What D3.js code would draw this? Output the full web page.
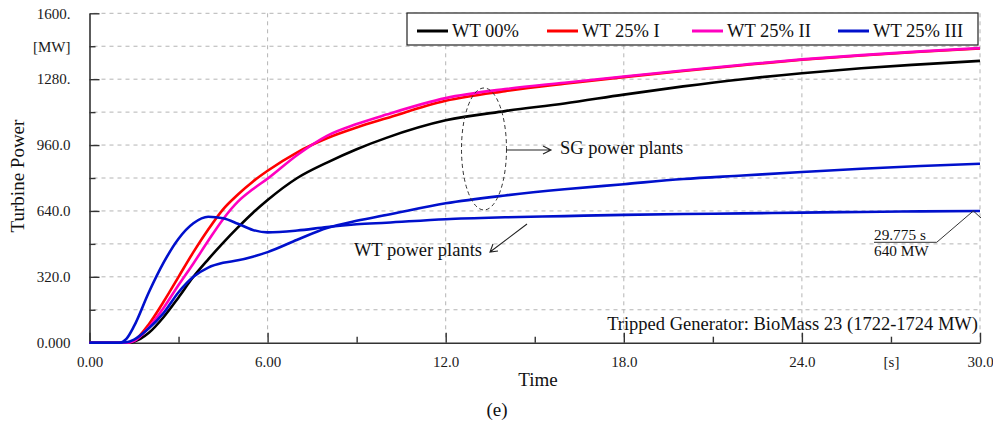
<!DOCTYPE html>
<html>
<head>
<meta charset="utf-8">
<script src="https://cdn.jsdelivr.net/npm/d3@7"></script>
<style>
body { margin: 0; background: #fff; }
svg { display: block; }
</style>
</head>
<body>
<svg id="svgRoot" width="993" height="431"></svg>
<script>
// values (time in s, power in MW)
const time = [0, 1, 1.25, 1.5, 2, 2.5, 3, 3.5, 4, 4.5, 5, 5.5, 6, 7, 8, 9, 10, 12, 14, 16, 18, 20, 22, 24, 26, 28, 30]
const wt00 = [0, 0, 0, 5, 48, 125, 220, 320, 405, 485, 560, 630, 693, 800, 875, 940, 995, 1080, 1125, 1162, 1205, 1245, 1280, 1309, 1333, 1352, 1369]
const wt25_1 = [0, 0, 0, 10, 90, 200, 320, 440, 550, 648, 720, 782, 835, 925, 993, 1045, 1090, 1175, 1222, 1258, 1290, 1320, 1348, 1374, 1395, 1413, 1429]
const wt25_2 = [0, 0, 0, 8, 75, 170, 280, 385, 495, 600, 685, 745, 797, 912, 1005, 1062, 1108, 1188, 1232, 1263, 1293, 1322, 1350, 1376, 1397, 1415, 1431]
// WT 25% III : SG power plants and WT power plants
const wt25_3_sg = [0, 0, 2, 15, 70, 145, 245, 320, 365, 388, 400, 418, 440, 500, 557, 592, 620, 677, 715, 745, 770, 795, 812, 829, 845, 858, 869]
const wt25_3_wt = [0, 0, 20, 80, 245, 390, 505, 580, 612, 604, 578, 548, 536, 545, 562, 575, 583, 600, 609, 615, 621, 625, 628, 632, 635, 638, 640]

const legendNames = ["WT 00%", "WT 25% I", "WT 25% II", "WT 25% III"]
const legendColors = ["#000000", "#ff0000", "#ff00c0", "#0010cc"]

const yMajor = [0, 320, 640, 960, 1280, 1600]
const yMajorLabels = ["0.000", "320.0", "640.0", "960.0", "1280.", "1600."]
const yMinor = [160, 480, 800, 1120, 1440]
const xMajor = [0, 6, 12, 18, 24, 30]
const xMajorLabels = ["0.00", "6.00", "12.0", "18.0", "24.0", "30.0"]
const xMinor = [3, 9, 15, 21, 27]

const serif = "Liberation Serif, Times New Roman, serif"

let svg = d3.select("#svgRoot").attr("font-family", serif)

let scale_x = d3.scaleLinear().domain([0, 30]).range([89.5, 980])
let scale_y = d3.scaleLinear().domain([0, 1600]).range([342.7, 13.3])

// grid
let g_grid = svg.append("g").attr("class", "g_grid")
g_grid.selectAll(".hgrid")
  .data(yMajor.concat(yMinor).filter((d) => d > 0))
  .enter()
  .append("line")
  .attr("x1", scale_x(0) + 4)
  .attr("x2", scale_x(30))
  .attr("y1", (d) => scale_y(d))
  .attr("y2", (d) => scale_y(d))
  .attr("stroke", "#b4b4b4")
  .attr("stroke-dasharray", "4,4")
g_grid.selectAll(".vgrid")
  .data(xMajor.filter((d) => d > 0))
  .enter()
  .append("line")
  .attr("x1", (d) => scale_x(d))
  .attr("x2", (d) => scale_x(d))
  .attr("y1", scale_y(1600))
  .attr("y2", scale_y(0) - 4)
  .attr("stroke", "#b4b4b4")
  .attr("stroke-dasharray", "4,4")

// axes
let g_yAxis = svg.append("g").attr("transform", "translate(" + scale_x(0) + ",0)")
g_yAxis.call(d3.axisLeft(scale_y).tickValues(yMajor).tickSizeInner(-10).tickSizeOuter(0).tickPadding(19)
  .tickFormat((d, i) => yMajorLabels[i]))
let g_yMinor = svg.append("g").attr("transform", "translate(" + scale_x(0) + ",0)")
g_yMinor.call(d3.axisLeft(scale_y).tickValues(yMinor).tickSizeInner(-6).tickSizeOuter(0).tickPadding(19)
  .tickFormat((d) => d == 1440 ? "[MW]" : ""))
g_yMinor.select(".domain").remove()

let g_xAxis = svg.append("g").attr("transform", "translate(0," + scale_y(0) + ")")
g_xAxis.call(d3.axisBottom(scale_x).tickValues(xMajor).tickSizeInner(-10).tickSizeOuter(0)
  .tickFormat((d, i) => xMajorLabels[i]))
let g_xMinor = svg.append("g").attr("transform", "translate(0," + scale_y(0) + ")")
g_xMinor.call(d3.axisBottom(scale_x).tickValues(xMinor).tickSizeInner(-6).tickSizeOuter(0)
  .tickFormat((d) => d == 27 ? "[s]" : ""))
g_xMinor.select(".domain").remove()

svg.selectAll(".domain").attr("stroke", "#333").attr("stroke-width", 1.6)
svg.selectAll(".tick line").attr("stroke", "#333").attr("stroke-width", 1.4)
svg.selectAll("g").attr("font-family", serif)
svg.selectAll(".tick text")
  .attr("font-size", "15px")
  .attr("fill", "#1a1a1a")
g_xAxis.selectAll(".tick text").attr("y", 24.5).attr("dy", 0)
g_xMinor.selectAll(".tick text").attr("y", 24.5).attr("dy", 0)

// curves
let line = d3.line()
  .x((d, i) => scale_x(time[i]))
  .y((d) => scale_y(d))
  .curve(d3.curveMonotoneX)

let series = [
  { values: wt00, color: legendColors[0] },
  { values: wt25_1, color: legendColors[1] },
  { values: wt25_2, color: legendColors[2] },
  { values: wt25_3_sg, color: legendColors[3] },
  { values: wt25_3_wt, color: legendColors[3] },
]
svg.append("g").selectAll("path")
  .data(series)
  .enter()
  .append("path")
  .attr("d", (d) => line(d.values))
  .attr("fill", "none")
  .attr("stroke", (d) => d.color)
  .attr("stroke-width", 2.6)

// legend
let g_legend = svg.append("g").attr("font-family", serif)
g_legend.append("rect")
  .attr("x", 407).attr("y", 13).attr("width", 571).attr("height", 32)
  .attr("fill", "#fff").attr("stroke", "#222").attr("stroke-width", 1.2)
let legendX = [417, 547, 692, 838]
legendNames.forEach((name, i) => {
  g_legend.append("line")
    .attr("x1", legendX[i]).attr("x2", legendX[i] + 31)
    .attr("y1", 31).attr("y2", 31)
    .attr("stroke", legendColors[i]).attr("stroke-width", 3)
  g_legend.append("text")
    .attr("x", legendX[i] + 35).attr("y", 37)
    .attr("font-size", "18.5px").attr("fill", "#111")
    .text(name)
})

// annotations
let g_note = svg.append("g").attr("fill", "#111").attr("font-size", "18.5px").attr("font-family", serif)
g_note.append("ellipse")
  .attr("cx", scale_x(13.29)).attr("cy", scale_y(941)).attr("rx", 22.5).attr("ry", 61)
  .attr("fill", "none").attr("stroke", "#333").attr("stroke-dasharray", "4,3")
g_note.append("path")
  .attr("d", "M506,150 L551,150 M543,146 L551,150 L543,154")
  .attr("fill", "none").attr("stroke", "#222").attr("stroke-width", 1.1)
g_note.append("text").attr("x", 560).attr("y", 154).text("SG power plants")

g_note.append("path")
  .attr("d", "M527,224 L490,252 M493,244 L490,252 L498,251")
  .attr("fill", "none").attr("stroke", "#222").attr("stroke-width", 1.1)
g_note.append("text").attr("x", 482).attr("y", 256).attr("text-anchor", "end").text("WT power plants")

g_note.append("path")
  .attr("d", "M874,242.3 L936.7,242.3 L" + scale_x(29.775) + "," + scale_y(640) + " L981,218")
  .attr("fill", "none").attr("stroke", "#333").attr("stroke-width", 1)
g_note.append("text").attr("x", 874).attr("y", 240).attr("font-size", "15.3px").text("29.775 s")
g_note.append("text").attr("x", 874).attr("y", 256).attr("font-size", "15.3px").text("640 MW")

g_note.append("text").attr("x", 978).attr("y", 330).attr("text-anchor", "end")
  .text("Tripped Generator: BioMass 23 (1722-1724 MW)")

// axis titles
let g_axisTitle = svg.append("g").attr("font-family", serif).attr("font-size", "19px").attr("fill", "#111")
g_axisTitle.append("text").attr("x", 538).attr("y", 386).attr("text-anchor", "middle").text("Time")
g_axisTitle.append("text").attr("transform", "translate(24,176) rotate(-90)").attr("text-anchor", "middle")
  .text("Turbine Power")
g_axisTitle.append("text").attr("x", 497).attr("y", 416).attr("text-anchor", "middle").text("(e)")
</script>
</body>
</html>
